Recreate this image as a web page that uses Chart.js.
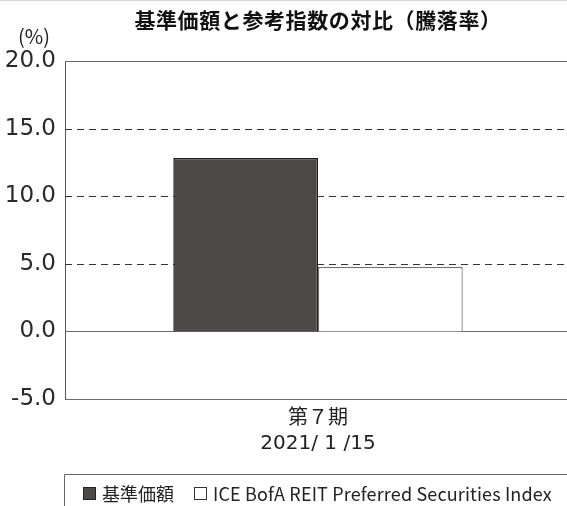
<!DOCTYPE html>
<html>
<head>
<meta charset="utf-8">
<script src="https://cdn.jsdelivr.net/npm/chart.js@4/dist/chart.umd.min.js"></script>
<style>
  html, body { margin: 0; padding: 0; background: #fff; overflow: hidden; }
  #wrap { position: relative; width: 567px; height: 506px; overflow: hidden; }
</style>
</head>
<body>
<div id="wrap"><canvas id="c" width="571" height="506"></canvas></div>
<script>
const titleText = "基準価額と参考指数の対比（騰落率）";
const unitLabel = "(%)";
const categories = [["第７期", "2021/ 1 /15"]];
const seriesNames = ["基準価額", "ICE BofA REIT Preferred Securities Index"];
const fundValues = [12.83];
const indexValues = [4.76];
const yTicks = [-5, 0, 5, 10, 15, 20];
const dashedTicks = [5, 10, 15];

const FONT = "'Noto Sans CJK JP', 'Noto Sans', sans-serif";
const NUMFONT = "'DejaVu Sans', 'Noto Sans CJK JP', sans-serif";

const decorPlugin = {
  id: 'decor',
  beforeDatasetsDraw(chart) {
    const ctx = chart.ctx;
    const y = chart.scales.y;
    const a = chart.chartArea;
    ctx.save();
    y.ticks.forEach(t => {
      const py = Math.round(y.getPixelForValue(t.value)) + 0.5;
      ctx.beginPath();
      if (dashedTicks.includes(t.value)) {
        ctx.setLineDash([7, 5]);
        ctx.strokeStyle = '#333';
      } else {
        ctx.setLineDash([]);
        ctx.strokeStyle = '#6a6a6a';
      }
      ctx.lineWidth = 1;
      ctx.moveTo(a.left, py);
      ctx.lineTo(a.right, py);
      ctx.stroke();
    });
    ctx.restore();
  },
  afterDraw(chart) {
    const ctx = chart.ctx;
    ctx.save();
    // faint top edge
    ctx.fillStyle = '#d4d4d4';
    ctx.fillRect(0, 0, chart.width, 1);
    // title
    ctx.fillStyle = '#111';
    ctx.font = "bold 21px " + FONT;
    ctx.textAlign = 'center';
    ctx.textBaseline = 'middle';
    ctx.letterSpacing = '0.6px';
    ctx.fillText(titleText, 318, 20);
    ctx.letterSpacing = '0px';
    // unit
    ctx.font = "20px " + FONT;
    ctx.fillStyle = '#222';
    ctx.fillText(unitLabel, 34, 36);
    // legend frame
    ctx.strokeStyle = '#666';
    ctx.lineWidth = 1;
    ctx.beginPath();
    ctx.moveTo(64.5, chart.height);
    ctx.lineTo(64.5, 474.5);
    ctx.lineTo(chart.width, 474.5);
    ctx.stroke();
    // legend items
    const ds = chart.data.datasets;
    const items = [
      { x: 83, tx: 102, ls: '0px' },
      { x: 194, tx: 213, ls: '0.15px' }
    ];
    ctx.font = "18px " + FONT;
    ctx.textAlign = 'left';
    ctx.textBaseline = 'middle';
    ds.forEach((d, i) => {
      const it = items[i];
      ctx.fillStyle = d.backgroundColor;
      ctx.fillRect(it.x, 487, 13, 13);
      ctx.strokeStyle = i === 0 ? '#222' : '#333';
      ctx.strokeRect(it.x + 0.5, 487.5, 12, 12);
      ctx.fillStyle = '#222';
      ctx.letterSpacing = it.ls;
      ctx.fillText(d.label, it.tx, 494);
    });
    ctx.restore();
  }
};

new Chart(document.getElementById('c'), {
  type: 'bar',
  data: {
    labels: categories,
    datasets: [
      {
        label: seriesNames[0],
        data: fundValues,
        backgroundColor: '#4d4948',
        borderColor: '#1e1e1e',
        borderWidth: 1.5,
        categoryPercentage: 0.572,
        barPercentage: 1.0
      },
      {
        label: seriesNames[1],
        data: indexValues,
        backgroundColor: '#ffffff',
        borderColor: '#707070',
        borderWidth: 1.2,
        categoryPercentage: 0.572,
        barPercentage: 1.0
      }
    ]
  },
  options: {
    responsive: false,
    animation: false,
    devicePixelRatio: 1,
    layout: { padding: { top: 61, left: 0, right: 0, bottom: 0 } },
    plugins: {
      legend: { display: false },
      title: { display: false },
      tooltip: { enabled: false }
    },
    scales: {
      x: {
        grid: { display: false, drawTicks: false },
        border: { display: true, color: '#6a6a6a', width: 1 },
        ticks: {
          color: '#222',
          font: { family: NUMFONT, size: 20, lineHeight: 1.25 },
          padding: 7,
          maxRotation: 0
        },
        afterFit(scale) { scale.height = 107; }
      },
      y: {
        min: -5,
        max: 20,
        afterBuildTicks(scale) { scale.ticks = yTicks.map(v => ({ value: v })); },
        grid: { display: false, drawTicks: false },
        border: { display: true, color: '#555', width: 1 },
        ticks: {
          color: '#2a2a2a',
          font: { family: NUMFONT, size: 23 },
          padding: 9,
          callback: v => Number(v).toFixed(1)
        },
        afterFit(scale) { scale.width = 65; }
      }
    }
  },
  plugins: [decorPlugin]
});
</script>
</body>
</html>
